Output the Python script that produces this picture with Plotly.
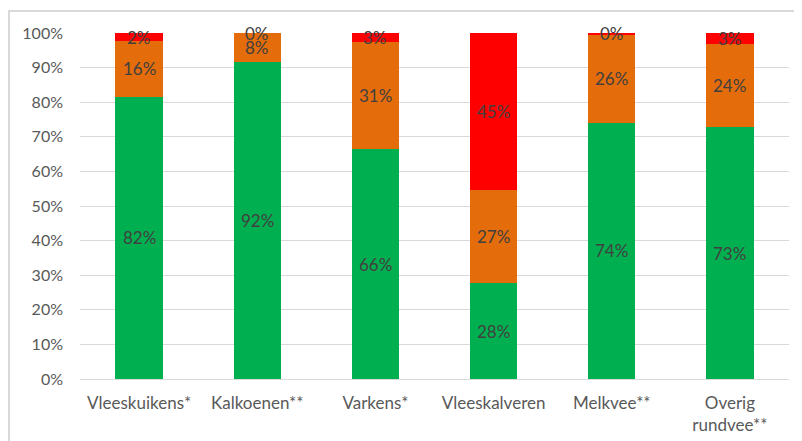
import plotly.graph_objects as go

categories = ["Vleeskuikens*", "Kalkoenen**", "Varkens*", "Vleeskalveren", "Melkvee**", "Overig<br>rundvee**"]
green_vals = [81.6, 91.6, 66.4, 27.7, 74.0, 72.8]
orange_vals = [16.0, 8.4, 31.0, 27.0, 25.5, 23.9]
red_vals = [2.4, 0.0, 2.6, 45.3, 0.5, 3.3]
tick_vals = [0, 10, 20, 30, 40, 50, 60, 70, 80, 90, 100]
tick_text = [f"{v}%" for v in tick_vals]

colors = {"green": "#00B050", "orange": "#E46C0A", "red": "#FF0000"}

fig = go.Figure()
for name, vals in [("green", green_vals), ("orange", orange_vals), ("red", red_vals)]:
    fig.add_trace(go.Bar(x=categories, y=vals, marker_color=colors[name],
                         marker_line_width=0, width=0.4, showlegend=False,
                         hoverinfo="skip"))

annotations = []
for i, cat in enumerate(categories):
    base = 0
    for vals in (green_vals, orange_vals, red_vals):
        v = vals[i]
        annotations.append(dict(x=cat, y=base + v / 2, xref="x", yref="y",
                                text=f"{round(v):.0f}%", showarrow=False,
                                font=dict(family="Lato", size=17, color="#404040")))
        base += v

# The page adds an 8px body margin, so the figure is sized/positioned to compensate.
fig.update_layout(
    width=794, height=433,
    margin=dict(l=72, r=13, t=25, b=62),
    barmode="stack",
    plot_bgcolor="white", paper_bgcolor="white",
    annotations=annotations,
    font=dict(family="Lato", color="#595959", size=15),
    xaxis=dict(showgrid=False, showline=False, ticks="", ticklabelstandoff=12,
               automargin=False, tickfont=dict(size=17, color="#595959")),
    yaxis=dict(range=[0, 100], tickvals=tick_vals, ticktext=tick_text,
               showgrid=True, gridcolor="#D9D9D9", gridwidth=1, zeroline=True,
               zerolinecolor="#D9D9D9", zerolinewidth=1, ticks="", ticklabelstandoff=16,
               automargin=False, tickfont=dict(size=16, color="#595959")),
    shapes=[dict(type="rect", xref="paper", yref="paper", x0=-0.1001, x1=1.06, y0=-0.25, y1=1.0636,
                 line=dict(color="#D9D9D9", width=2), fillcolor="rgba(0,0,0,0)", layer="below")],
)

fig.write_html("out.html")
